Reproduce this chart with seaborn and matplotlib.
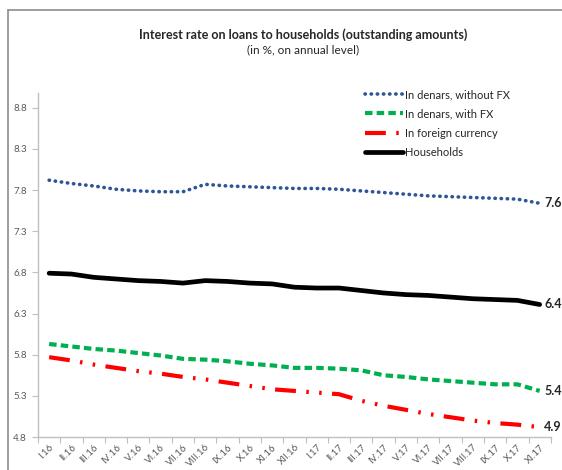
import numpy as np
import pandas as pd
import matplotlib
matplotlib.use('Agg')
import matplotlib.pyplot as plt
import seaborn as sns
from matplotlib.lines import Line2D

# Data
months = ['I.16', 'II.16', 'III.16', 'IV.16', 'V.16', 'VI.16', 'VII.16', 'VIII.16',
          'IX.16', 'X.16', 'XI.16', 'XII.16', 'I.17', 'II.17', 'III.17', 'IV.17',
          'V.17', 'VI.17', 'VII.17', 'VIII.17', 'IX.17', 'X.17', 'XI.17']

denars_no_fx = [7.92, 7.88, 7.85, 7.81, 7.79, 7.78, 7.78, 7.87, 7.85, 7.84, 7.83, 7.82,
                7.82, 7.81, 7.79, 7.77, 7.75, 7.73, 7.72, 7.71, 7.70, 7.69, 7.64]
denars_fx = [5.93, 5.90, 5.87, 5.85, 5.82, 5.79, 5.75, 5.74, 5.72, 5.69, 5.67, 5.64,
             5.64, 5.63, 5.61, 5.55, 5.53, 5.50, 5.48, 5.46, 5.44, 5.44, 5.36]
foreign = [5.77, 5.73, 5.68, 5.64, 5.60, 5.57, 5.53, 5.50, 5.46, 5.42, 5.38, 5.36,
           5.34, 5.32, 5.24, 5.18, 5.13, 5.08, 5.04, 5.00, 4.97, 4.95, 4.92]
households = [6.79, 6.78, 6.74, 6.72, 6.70, 6.69, 6.67, 6.70, 6.69, 6.67, 6.66, 6.62,
              6.61, 6.61, 6.58, 6.55, 6.53, 6.52, 6.50, 6.48, 6.47, 6.46, 6.41]

labels = ['In denars, without FX', 'In denars, with FX', 'In foreign currency', 'Households']
colors = ['#2E5596', '#00B050', '#FF0000', '#000000']

sns.set_style('white')
plt.rcParams['font.family'] = ['Lato', 'DejaVu Sans']

fig = plt.figure(figsize=(5.62, 4.70), dpi=100)
ax = fig.add_axes([0.0676, 0.0702, 0.9125, 0.732])

x = np.arange(len(months))
series = [denars_no_fx, denars_fx, foreign, households]
styles = [
    dict(linestyle=(0, (0.1, 1.6)), linewidth=2.6, dash_capstyle='round'),
    dict(linestyle=(0, (1.8, 1.0)), linewidth=3.0),
    dict(linestyle=(0, (5.0, 2.5, 0.6, 2.5, 0.6, 2.5)), linewidth=3.0),
    dict(linestyle='-', linewidth=3.4),
]

for vals, lab, col, st in zip(series, labels, colors, styles):
    sns.lineplot(x=x, y=vals, ax=ax, color=col, label=lab, **st)
    # end-of-line value label
    ax.text(x[-1] + 0.2, vals[-1], f'{vals[-1]:.1f}', fontsize=9, fontweight='bold',
            va='center', ha='left', clip_on=False)

ax.set_xlim(-0.5, len(months) - 0.5)
ax.set_ylim(4.8, 8.98)
ax.set_yticks([4.8, 5.3, 5.8, 6.3, 6.8, 7.3, 7.8, 8.3, 8.8])
ax.set_yticklabels(['4.8', '5.3', '5.8', '6.3', '6.8', '7.3', '7.8', '8.3', '8.8'])

# category ticks between months, labels at month centres
ax.set_xticks(np.arange(-0.5, len(months), 1.0))
ax.set_xticklabels([])
ax.set_xticks(x, minor=True)
ax.set_xticklabels(months, minor=True, rotation=45, ha='right', rotation_mode='anchor')
ax.tick_params(axis='x', which='minor', length=0, labelsize=7, colors='#595959', pad=4)
ax.tick_params(axis='x', which='major', length=4, color='#BFBFBF', direction='out')
ax.tick_params(axis='y', length=4, color='#BFBFBF', labelsize=7, labelcolor='#595959', pad=4)
ax.tick_params(axis='both', bottom=True, left=True)

for side in ['top', 'right']:
    ax.spines[side].set_visible(False)
for side in ['left', 'bottom']:
    ax.spines[side].set_color('#BFBFBF')
    ax.spines[side].set_linewidth(1.0)

ax.set_xlabel('')
ax.set_ylabel('')

handles, lbls = ax.get_legend_handles_labels()
ax.legend(handles, lbls, loc='upper left', bbox_to_anchor=(355 / 562, 1 - 79 / 470),
          bbox_transform=fig.transFigure, frameon=False, fontsize=8,
          handlelength=3.4, handletextpad=0.2, labelspacing=0.75)

fig.text(0.54, 0.926, 'Interest rate on loans to households (outstanding amounts)',
         ha='center', va='center', fontsize=9, fontweight='bold')
fig.text(0.54, 0.893, '(in %, on annual level)', ha='center', va='center', fontsize=8.5)

# outer frame (left and top edges visible)
fig.add_artist(Line2D([8 / 562, 8 / 562], [0, 1 - 10 / 470], transform=fig.transFigure,
                      color='#8C8C8C', linewidth=1.2))
fig.add_artist(Line2D([8 / 562, 1], [1 - 10 / 470, 1 - 10 / 470], transform=fig.transFigure,
                      color='#8C8C8C', linewidth=1.2))

fig.savefig('out.png', dpi=100)
plt.close(fig)
